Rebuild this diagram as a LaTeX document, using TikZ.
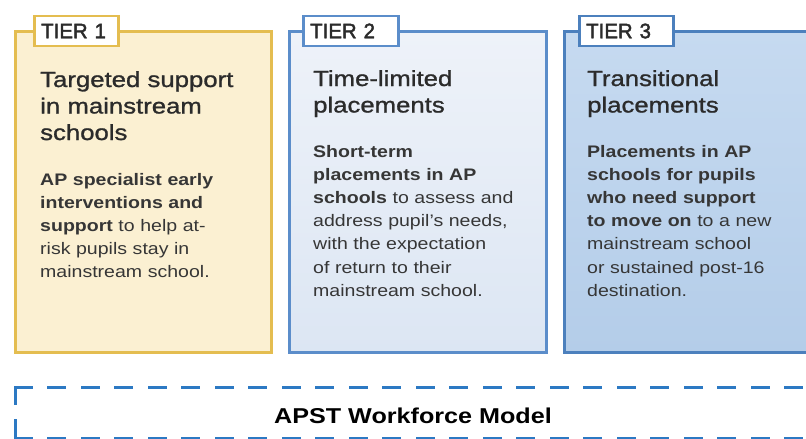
\documentclass[tikz,border=0pt]{standalone}
\usepackage{fontspec}
\setmainfont{Liberation Sans}[FakeStretch=1.17]
\newfontfamily\labfont{Liberation Sans}[FakeStretch=0.97, RawFeature={embolden=2.2}]
\newfontfamily\medfont{Liberation Sans}[FakeStretch=1.18, RawFeature={embolden=1.1}]
\definecolor{goldline}{HTML}{E4BD50}
\definecolor{goldfill}{HTML}{FBF0D2}
\definecolor{bluetwo}{HTML}{5B8DCA}
\definecolor{twotop}{HTML}{EEF2F9}
\definecolor{twobot}{HTML}{DCE6F3}
\definecolor{bluethree}{HTML}{4C80BD}
\definecolor{threetop}{HTML}{C6DAF0}
\definecolor{threebot}{HTML}{B4CDE9}
\definecolor{dashblue}{HTML}{2C79C3}
\definecolor{txt}{HTML}{2B2B2B}
\definecolor{bodytxt}{HTML}{363636}
\tikzset{
  tierbox/.style={draw, line width=3pt, minimum width=256.5pt, minimum height=321pt, anchor=north west, inner sep=0pt},
  tierlab/.style={draw, line width=2.5pt, fill=white, anchor=north west, minimum height=30pt,
    inner xsep=7pt, inner ysep=0pt, text height=15pt, text depth=0pt, align=left,
    font=\labfont\fontsize{21}{21}\selectfont, text=txt},
  heading/.style={anchor=base west, inner sep=0pt, text width=245pt, align=left,
    font=\medfont\fontsize{21.8}{26.5}\selectfont, text=txt},
  bodytext/.style={anchor=base west, inner sep=0pt, text width=245pt, align=left,
    font=\fontsize{16.7}{23.2}\selectfont, text=bodytxt},
  dashedge/.style={draw=dashblue, line width=3pt, line cap=rect, dash pattern=on 16pt off 17.5pt}
}
\begin{document}
\begin{tikzpicture}[x=1pt,y=-1pt]
\path[use as bounding box] (0,0) rectangle (806,439);
\clip (0,0) rectangle (806,439);
\fill[white] (0,0) rectangle (806,439);

% tier boxes
\node[tierbox, draw=goldline, fill=goldfill] (t1) at (13.5,30) {};
\node[tierbox, draw=bluetwo, top color=twotop, bottom color=twobot] (t2) at (288,30) {};
\node[tierbox, draw=bluethree, top color=threetop, bottom color=threebot] (t3) at (563,30) {};

% labels
\node[tierlab, draw=goldline, text width=70pt] (l1) at (33,14.5) {TIER 1};
\node[tierlab, draw=bluetwo, text width=81pt] (l2) at (302,14.5) {TIER 2};
\node[tierlab, draw=bluethree, text width=80pt] (l3) at (578,14.5) {TIER 3};

% headings
\node[heading] (h1) at (40,87) {Targeted support\\in mainstream\\schools};
\node[heading] (h2) at (313,86) {Time-limited\\placements};
\node[heading] (h3) at (587,86) {Transitional\\placements};

% bodies
\node[bodytext] (b1) at (40,185) {\textbf{AP specialist early}\\\textbf{interventions and}\\\textbf{support} to help at-\\risk pupils stay in\\mainstream school.};
\node[bodytext] (b2) at (313,157) {\textbf{Short-term}\\\textbf{placements in AP}\\\textbf{schools} to assess and\\address pupil's needs,\\with the expectation\\of return to their\\mainstream school.};
\node[bodytext] (b3) at (587,157) {\textbf{Placements in AP}\\\textbf{schools for pupils}\\\textbf{who need support}\\\textbf{to move on} to a new\\mainstream school\\or sustained post-16\\destination.};

% workforce model
\node[anchor=north west, minimum width=815pt, minimum height=51pt, inner sep=0pt] (ws) at (15,387) {};
\draw[dashedge] (ws.north west) -- (ws.north east);
\draw[dashedge] (ws.north west) -- (ws.south west);
\draw[dashedge] (ws.south west) -- (ws.south east);
\node[anchor=base, inner sep=0pt, font=\bfseries\fontsize{21.5}{21.5}\selectfont, text=black] (wt) at (413,423) {APST Workforce Model};
\end{tikzpicture}
\end{document}
